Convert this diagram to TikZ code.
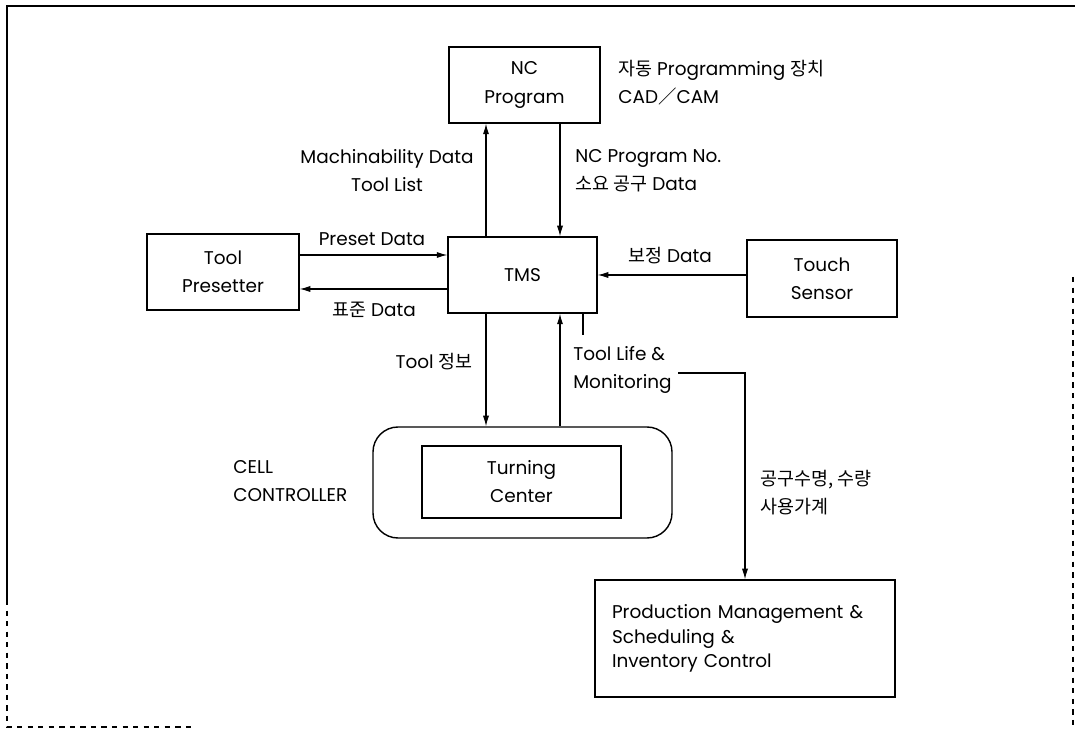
\documentclass[tikz,border=0pt]{standalone}
\usepackage{fontspec}
\setmainfont{Poppins}
\newfontfamily\krfont{Noto Sans CJK KR}
\newcommand{\kr}[1]{{\krfont #1}}
\usetikzlibrary{arrows.meta}

\begin{document}
\begin{tikzpicture}[x=0.2mm,y=-0.2mm,
    box/.style={draw,line width=.8pt,inner sep=0pt,align=center,
        font=\fontsize{10.5}{16}\selectfont},
    lbl/.style={inner sep=0pt,font=\fontsize{10.5}{16}\selectfont},
    arr/.style={-{Latex[length=6pt,width=3.5pt]},line width=.6pt}]
    \useasboundingbox (0,0) rectangle (1075,729);
    % scanned frame
    \draw[line width=.6pt] (7,600) -- (7,6) -- (1075,6);
    \draw[line width=.6pt,dashed] (7,600) -- (7,727) -- (195,727);
    \draw[line width=.6pt,dashed] (1073,277) -- (1073,729);

    % boxes
    \node[box,minimum width=3.02cm,minimum height=1.52cm] (ncprog) at (524.5,85) {NC\\Program};
    \node[box,minimum width=2.98cm,minimum height=1.52cm] (tms) at (522.5,275) {TMS};
    \node[box,minimum width=3.04cm,minimum height=1.52cm] (presetter) at (223,272) {Tool\\Presetter};
    \node[box,minimum width=3cm,minimum height=1.54cm] (touch) at (822,278.5) {Touch\\Sensor};
    \node[draw,line width=.8pt,rounded corners=.5cm,minimum width=5.98cm,minimum height=2.22cm] (cell) at (522.5,482.5) {};
    \node[box,minimum width=3.98cm,minimum height=1.44cm] (turning) at (521.5,482) {Turning\\Center};
    \node[box,align=left,inner xsep=3.4mm,text width=5.32cm,minimum height=2.34cm,
        font=\fontsize{10.5}{14}\selectfont] (prod) at (745,638.5)
        {Production Management \&\\Scheduling \&\\Inventory Control};

    % labels
    \node[lbl,anchor=west,align=left] (auto) at (618,83) {\kr{자동} Programming \kr{장치}\\CAD\kr{／}CAM};
    \node[lbl,align=center] (machin) at (387,171) {Machinability Data\\Tool List};
    \node[lbl,anchor=west,align=left] (ncno) at (575,171) {NC Program No.\\\kr{소요 공구} Data};
    \node[lbl] (preset) at (372,239) {Preset Data};
    \node[lbl] (stddata) at (374,310) {\kr{표준} Data};
    \node[lbl] (corr) at (670,256) {\kr{보정} Data};
    \node[lbl,anchor=east] (toolinfo) at (473,362) {Tool \kr{정보}};
    \node[lbl,anchor=west,align=left] (life) at (573,370) {Tool Life \&\\Monitoring};
    \node[lbl,anchor=west,align=left] (cellc) at (233,481) {CELL\\CONTROLLER};
    \node[lbl,anchor=west,align=left] (count) at (760,493) {\kr{공구수명, 수량}\\\kr{사용가계}};

    % connectors
    \coordinate (xa) at (486,0);
    \coordinate (xb) at (560,0);
    \coordinate (ya) at (0,255);
    \coordinate (yb) at (0,289);
    \coordinate (yc) at (0,275);
    \coordinate (stub) at (583,335);
    \coordinate (feed) at (678,373);
    \draw[arr] (tms.north -| xa) -- (ncprog.south -| xa);
    \draw[arr] (ncprog.south -| xb) -- (tms.north -| xb);
    \draw[arr] (presetter.east |- ya) -- (tms.west |- ya);
    \draw[arr] (tms.west |- yb) -- (presetter.east |- yb);
    \draw[arr] (touch.west |- yc) -- (tms.east |- yc);
    \draw[arr] (tms.south -| xa) -- (cell.north -| xa);
    \draw[arr] (cell.north -| xb) -- (tms.south -| xb);
    \draw[line width=.6pt] (tms.south -| stub) -- (stub);
    \draw[arr] (feed) -| (prod.north);
\end{tikzpicture}
\end{document}
